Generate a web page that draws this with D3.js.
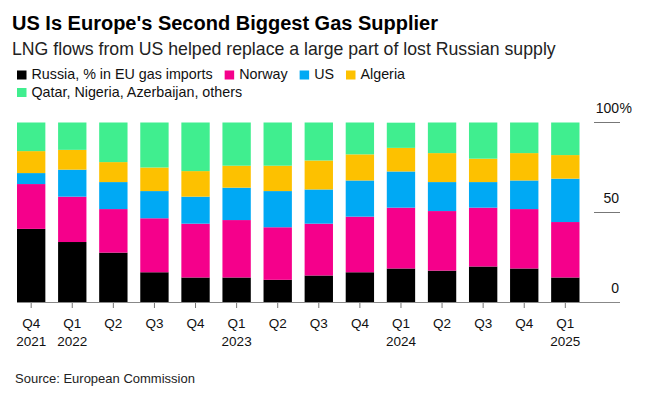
<!DOCTYPE html>
<html>
<head>
<meta charset="utf-8">
<script src="https://cdn.jsdelivr.net/npm/d3@7"></script>
<style>
  html, body { margin: 0; padding: 0; background: #fff; }
  svg { display: block; font-family: "Liberation Sans", Arial, sans-serif; }
</style>
</head>
<body>
<div id="chart"></div>
<script>
// Data (shares of EU gas imports, %)
var quarters = ['Q4 2021', 'Q1 2022', 'Q2 2022', 'Q3 2022', 'Q4 2022', 'Q1 2023', 'Q2 2023',
                'Q3 2023', 'Q4 2023', 'Q1 2024', 'Q2 2024', 'Q3 2024', 'Q4 2024', 'Q1 2025'];
var russia  = [40.9, 33.6, 27.7, 16.8, 13.9, 13.9, 12.6, 15.0, 16.8, 18.9, 17.7, 20.0, 18.9, 13.9];
var norway  = [24.9, 25.2, 24.2, 30.0, 29.9, 31.9, 29.2, 28.8, 30.9, 33.8, 33.1, 32.7, 33.0, 30.8];
var us      = [ 6.1, 15.0, 15.0, 15.1, 15.0, 18.0, 20.1, 19.0, 20.1, 20.1, 16.1, 14.2, 15.9, 24.1];
var algeria = [12.2, 11.0, 11.1, 13.1, 14.2, 12.2, 14.1, 16.1, 14.5, 13.1, 16.1, 13.0, 15.2, 13.1];
var others  = [15.9, 15.2, 22.0, 25.0, 27.0, 24.0, 24.0, 21.1, 17.7, 14.0, 17.0, 20.1, 17.0, 18.1];

var seriesKeys   = ['russia', 'norway', 'us', 'algeria', 'others'];
var seriesNames  = ['Russia, % in EU gas imports', 'Norway', 'US', 'Algeria', 'Qatar, Nigeria, Azerbaijan, others'];
var seriesColors = ['#000000', '#f5008b', '#00a9f4', '#fdc100', '#40ee8f'];
var yTicks = [0, 50, 100];

(function () {
  var width = 647, height = 393;
  var svg = d3.select('#chart').append('svg').attr('width', width).attr('height', height);

  var rows = quarters.map(function (q, i) {
    return { q: q, russia: russia[i], norway: norway[i], us: us[i], algeria: algeria[i], others: others[i] };
  });
  var stacked = d3.stack().keys(seriesKeys)(rows);

  var x = d3.scaleBand().domain(quarters).range([17, 579.5]).paddingInner(0.31).paddingOuter(0);
  var y = d3.scaleLinear().domain([0, 100]).range([302.5, 122.5]);
  var color = d3.scaleOrdinal().domain(seriesKeys).range(seriesColors);

  // titles
  svg.append('text').attr('x', 12).attr('y', 29.5)
    .style('font-size', '20px').style('font-weight', 'bold').attr('fill', '#000')
    .text("US Is Europe's Second Biggest Gas Supplier");
  svg.append('text').attr('x', 12).attr('y', 55)
    .style('font-size', '17.7px').attr('fill', '#222')
    .text('LNG flows from US helped replace a large part of lost Russian supply');

  // legend: two rows, wrap before the last item
  var lg = svg.append('g').attr('class', 'legend');
  var lx = 17, ly = 0;
  seriesKeys.forEach(function (k, i) {
    if (i === 4) { lx = 17; ly = 17.5; }
    var item = lg.append('g').attr('transform', 'translate(' + lx + ',' + (70.5 + ly) + ')');
    item.append('rect').attr('width', 9.5).attr('height', 9).attr('fill', color(k));
    var t = item.append('text').attr('x', 14.5).attr('y', 8.5)
      .style('font-size', '14.3px').attr('fill', '#111').text(seriesNames[i]);
    lx += 14.5 + t.node().getComputedTextLength() + 12;
  });

  // y grid ticks on the right
  var yAxis = svg.append('g').attr('class', 'y-axis');
  yTicks.forEach(function (v) {
    if (v > 0) {
      yAxis.append('line').attr('x1', 594).attr('x2', 620)
        .attr('y1', y(v)).attr('y2', y(v)).attr('stroke', '#777').attr('stroke-width', 1);
    }
    yAxis.append('text').attr('x', 619).attr('y', y(v) - 9.5).attr('text-anchor', 'end')
      .style('font-size', '14px').attr('fill', '#111').text(v);
    if (v === 100) {
      yAxis.append('text').attr('x', 619.5).attr('y', y(v) - 9.5)
        .style('font-size', '14px').attr('fill', '#111').text('%');
    }
  });

  // bars
  svg.append('g').selectAll('g').data(stacked).enter().append('g')
    .attr('fill', function (s) { return color(s.key); })
    .selectAll('rect').data(function (s) { return s; }).enter().append('rect')
    .attr('x', function (d) { return x(d.data.q); })
    .attr('width', x.bandwidth())
    .attr('y', function (d) { return y(d[1]); })
    .attr('height', function (d) { return y(d[0]) - y(d[1]); });

  // x axis
  var xAxis = svg.append('g').attr('transform', 'translate(0,' + y(0) + ')')
    .call(d3.axisBottom(x).tickSize(5.5).tickFormat(''));
  xAxis.select('.domain').remove();
  xAxis.selectAll('.tick line').attr('stroke', '#777');
  xAxis.append('line').attr('x1', 17).attr('x2', 620).attr('y1', 0).attr('y2', 0)
    .attr('stroke', '#888').attr('stroke-width', 1.2);
  xAxis.selectAll('.tick').each(function (q) {
    var parts = q.split(' ');
    var g = d3.select(this);
    g.append('text').attr('y', 25.5).attr('text-anchor', 'middle')
      .style('font-size', '13.5px').attr('fill', '#111').text(parts[0]);
    if (parts[0] === 'Q1' || q === quarters[0]) {
      g.append('text').attr('y', 43).attr('text-anchor', 'middle')
        .style('font-size', '13.5px').attr('fill', '#111').text(parts[1]);
    }
  });

  svg.append('text').attr('x', 15).attr('y', 382.5)
    .style('font-size', '13px').attr('fill', '#222').text('Source: European Commission');
})();
</script>
</body>
</html>
